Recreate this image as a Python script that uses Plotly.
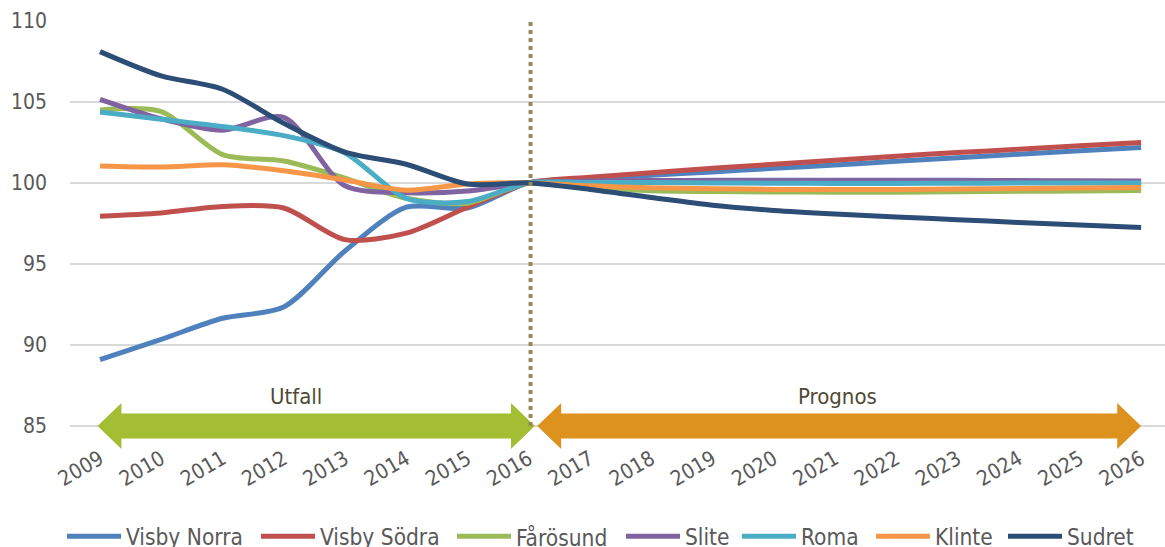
import plotly.graph_objects as go

# ---------------- data ----------------
years = list(range(2009, 2027))

visby_norra = [89.1, 90.35, 91.65, 92.35, 95.8, 98.5, 98.45, 100.0,
               100.25, 100.47, 100.68, 100.9, 101.1, 101.33, 101.55, 101.77, 101.98, 102.18]
visby_sodra = [97.95, 98.15, 98.55, 98.45, 96.5, 96.9, 98.5, 100.0,
               100.35, 100.62, 100.9, 101.15, 101.4, 101.65, 101.87, 102.08, 102.3, 102.5]
farosund = [104.5, 104.4, 101.75, 101.35, 100.3, 99.05, 98.75, 100.0,
            99.7, 99.52, 99.47, 99.44, 99.43, 99.43, 99.45, 99.48, 99.5, 99.53]
slite = [105.15, 103.95, 103.25, 104.05, 99.82, 99.4, 99.5, 100.0,
         100.12, 100.15, 100.16, 100.17, 100.17, 100.17, 100.16, 100.15, 100.13, 100.12]
roma = [104.38, 103.93, 103.48, 102.92, 101.85, 99.05, 98.85, 100.0,
        100.02, 100.02, 100.0, 99.98, 99.97, 99.97, 99.98, 99.99, 100.0, 100.0]
klinte = [101.05, 100.98, 101.12, 100.75, 100.18, 99.55, 99.93, 100.0,
          99.82, 99.7, 99.64, 99.6, 99.59, 99.6, 99.62, 99.65, 99.68, 99.72]
sudret = [108.1, 106.6, 105.78, 103.68, 101.9, 101.15, 99.93, 100.0,
          99.6, 99.1, 98.62, 98.3, 98.08, 97.9, 97.73, 97.56, 97.4, 97.25]

series_names = ["Visby Norra", "Visby Södra", "Fårösund", "Slite", "Roma", "Klinte", "Sudret"]
series_values = [visby_norra, visby_sodra, farosund, slite, roma, klinte, sudret]
series_colors = ["#4F81BD", "#C0504D", "#9BBB59", "#8064A2", "#4BACC6", "#F79646", "#2C4D75"]

y_ticks = [85, 90, 95, 100, 105, 110]
split_year = 2016
outcome_label = "Utfall"
forecast_label = "Prognos"

FONT = "DejaVu Sans Condensed, DejaVu Sans"
GRAY = "#595959"

fig = go.Figure()
for name, vals, col in zip(series_names, series_values, series_colors):
    fig.add_trace(go.Scatter(
        x=years, y=vals, name=name, mode="lines",
        line=dict(color=col, width=5, shape="spline", smoothing=0.8),
        showlegend=False,
    ))

# ---------------- arrows ----------------
base = y_ticks[0]
H, S, HL = 1.42, 0.77, 0.39


def arrow_path(x0, x1):
    pts = [(x0, base), (x0 + HL, base + H), (x0 + HL, base + S), (x1 - HL, base + S),
           (x1 - HL, base + H), (x1, base), (x1 - HL, base - H), (x1 - HL, base - S),
           (x0 + HL, base - S), (x0 + HL, base - H)]
    return "M " + " L ".join(f"{x},{y}" for x, y in pts) + " Z"


shapes = [
    dict(type="path", xref="x", yref="y", path=arrow_path(years[0] - 0.04, split_year + 0.1),
         fillcolor="#A3BE32", line=dict(width=0), layer="above"),
    dict(type="path", xref="x", yref="y", path=arrow_path(split_year + 0.14, years[-1]),
         fillcolor="#DC921D", line=dict(width=0), layer="above"),
    dict(type="line", xref="x", yref="y", x0=split_year + 0.03, x1=split_year + 0.03,
         y0=base, y1=y_ticks[-1], line=dict(color="#948A54", width=4, dash="4px,4px"),
         layer="above"),
]

annotations = [
    dict(x=2012.2, y=86.8, xref="x", yref="y", text=outcome_label, showarrow=False,
         font=dict(family=FONT, size=22, color="#4F4A33"), yanchor="middle"),
    dict(x=2021.05, y=86.8, xref="x", yref="y", text=forecast_label, showarrow=False,
         font=dict(family=FONT, size=22, color="#4F4A33"), yanchor="middle"),
]

# ---------------- manual legend (pixel layout converted to paper) ----------------
L, T, W, Hpx = 70, 20, 1095, 431.7
leg_y_px = 536
leg_line_x = [67, 261, 457, 626, 742, 876, 1008]
leg_line_len = 54


def px_to_paper_x(px):
    return (px - L) / W


def px_to_paper_y(py):
    return (T + Hpx - py) / Hpx


for name, col, lx in zip(series_names, series_colors, leg_line_x):
    shapes.append(dict(type="line", xref="paper", yref="paper",
                       x0=px_to_paper_x(lx), x1=px_to_paper_x(lx + leg_line_len),
                       y0=px_to_paper_y(leg_y_px), y1=px_to_paper_y(leg_y_px),
                       line=dict(color=col, width=5)))
    annotations.append(dict(x=px_to_paper_x(lx + leg_line_len + 3), y=px_to_paper_y(leg_y_px + 1),
                            xref="paper", yref="paper", text=name, showarrow=False,
                            xanchor="left", yanchor="middle",
                            font=dict(family=FONT, size=22.5, color=GRAY)))

fig.update_layout(
    width=1165, height=547,
    margin=dict(l=L, r=0, t=T, b=547 - T - Hpx),
    paper_bgcolor="white", plot_bgcolor="white",
    font=dict(family=FONT, size=21, color=GRAY),
    shapes=shapes, annotations=annotations,
    showlegend=False,
    xaxis=dict(range=[2008.51, 2026.39], tickmode="array", tickvals=years,
               ticktext=[str(y) for y in years], tickangle=-30,
               showgrid=False, zeroline=False, showline=False, ticks="",
               ticklabelstandoff=-10,
               tickfont=dict(family=FONT, size=21, color=GRAY)),
    yaxis=dict(range=[83.4, 110.05], tickmode="array", tickvals=y_ticks,
               showgrid=True, gridcolor="#D9D9D9", gridwidth=1.5,
               zeroline=False, showline=False, ticks="", ticklabelstandoff=22,
               tickfont=dict(family=FONT, size=21, color=GRAY)),
)

fig.write_html("out.html", config={"displayModeBar": False},
               post_script="document.body.style.margin='0';document.body.style.overflow='hidden';")
